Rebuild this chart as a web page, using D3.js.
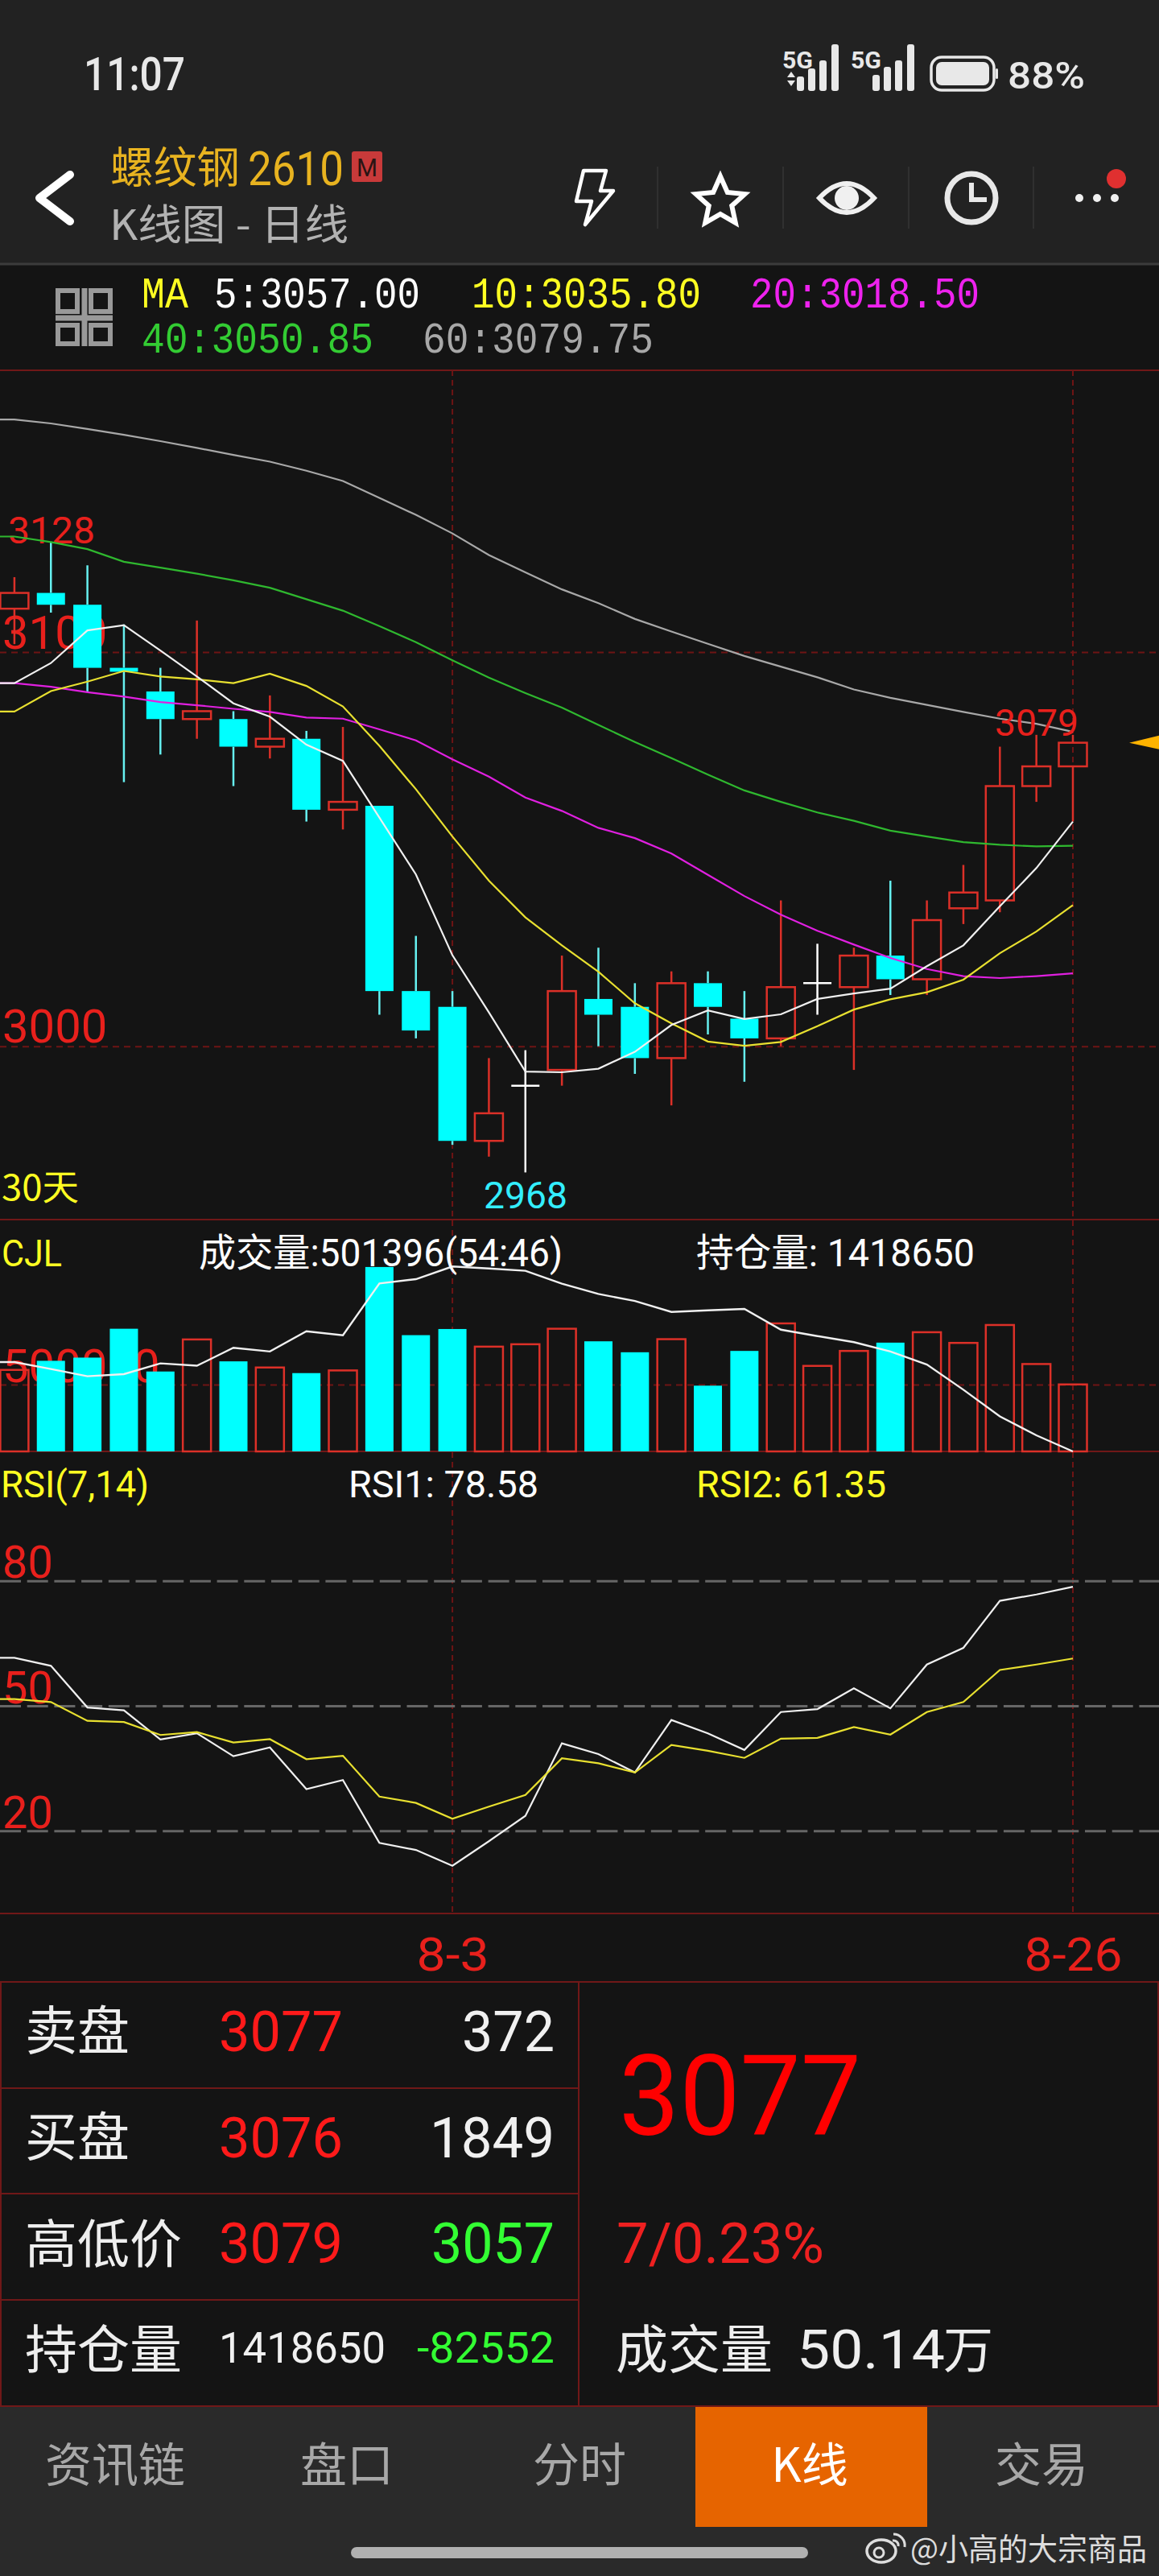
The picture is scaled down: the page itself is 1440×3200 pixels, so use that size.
<!DOCTYPE html>
<html>
<head>
<meta charset="utf-8">
<script src="https://cdn.jsdelivr.net/npm/d3@7"></script>
<style>
  body { margin: 0; background: #222222; }
  svg { display: block; }
  text { font-family: Roboto, "Noto Sans CJK SC", sans-serif; }
</style>
</head>
<body>
<div id="wrapper"></div>
<script>
// daily candles, 30 bars, ending 8-26
const opens = [3111,3115,3112,3096,3090,3083,3083,3076,3078,3060,3061,3014,3010,2976,2990,2994,3012,3010,2997,3016,3007,3002,3016,3015,3023,3017,3035,3037,3066,3071];
const closes = [3115,3112,3096,3095,3083,3085,3076,3078,3060,3062,3014,3004,2976,2983,2990,3014,3008,2997,3016,3010,3002,3015,3016,3023,3017,3032,3039,3066,3071,3077];
const highs = [3119,3128,3122,3107,3096,3108,3085,3089,3080,3081,3061,3028,3014,2997,2999,3023,3025,3016,3019,3019,3014,3037,3026,3025,3042,3037,3046,3076,3079,3079];
const lows = [3102,3110,3090,3067,3074,3078,3066,3073,3057,3055,3008,3002,2975,2972,2968,2990,3000,2993,2985,3003,2991,3000,3008,2994,3013,3013,3031,3034,3062,3057];

const ma5 = [3092.1,3097.2,3105.5,3106.8,3100.4,3093.8,3087.0,3083.6,3076.5,3072.4,3058.0,3043.6,3023.1,3008.6,2993.6,2993.4,2994.3,2998.6,3005.4,3009.1,3006.9,3008.1,3012.0,3013.4,3014.6,3020.3,3025.6,3035.5,3045.2,3057.0];
const ma10 = [3084.9,3090.1,3092.5,3095.2,3093.8,3093.1,3092.1,3094.5,3091.4,3086.2,3076.2,3065.2,3053.2,3042.0,3032.7,3025.6,3018.9,3010.9,3005.8,3001.2,3000.1,3001.1,3005.1,3009.3,3011.9,3013.7,3016.9,3023.6,3029.1,3035.8];
const ma20 = [3092.1,3091.2,3089.8,3088.7,3087.3,3086.5,3085.6,3084.8,3083.4,3083.1,3080.4,3077.6,3072.8,3068.4,3063.1,3059.7,3055.4,3052.8,3048.9,3043.5,3038.1,3033.4,3029.3,3025.8,3022.4,3019.6,3017.8,3017.3,3017.8,3018.5];
const ma40 = [3129.3,3127.9,3126.1,3122.9,3121.4,3119.9,3118.2,3116.3,3113.4,3110.5,3106.6,3102.5,3097.9,3093.5,3089.6,3085.9,3081.5,3077.2,3073.1,3068.9,3064.9,3062.0,3059.3,3057.2,3054.7,3053.2,3051.8,3051.1,3050.7,3050.85];
const ma60 = [3159.0,3158.0,3156.6,3155.1,3153.5,3151.8,3150.0,3148.3,3146.0,3143.4,3139.1,3134.8,3130.1,3124.6,3120.2,3115.9,3112.4,3108.4,3105.2,3102.1,3099.0,3096.3,3093.6,3090.5,3088.4,3086.6,3084.8,3083.1,3081.8,3079.75];

const volumes = [610000,678000,702000,918000,598000,838000,674000,628000,586000,606000,1380000,870000,916000,784000,802000,918000,824000,742000,840000,492000,752000,958000,640000,752000,814000,892000,812000,946000,654000,501396];
const openInterest = [1877000,1841000,1804000,1815000,1870000,1858000,1950000,1931000,2035000,2014000,2280000,2302000,2367000,2357000,2345000,2279000,2226000,2190000,2134000,2142000,2149000,2043000,2010000,1979000,1931000,1864000,1735000,1598000,1501202,1418650];

const rsi1 = [61.5,59.6,49.6,48.9,41.9,43.4,37.9,40.0,30.0,32.2,17.1,15.4,11.6,17.5,23.6,41.0,38.4,34.0,46.6,43.4,39.4,48.5,49.2,54.2,49.4,59.9,63.9,75.2,76.7,78.58];
const rsi2 = [51.6,50.9,46.4,46.1,43.0,43.7,41.2,42.0,37.2,38.0,28.2,26.7,22.9,25.8,28.6,37.4,36.2,34.0,40.6,39.2,37.5,42.1,42.3,44.9,43.1,48.5,50.9,58.6,59.9,61.35];

const priceTicks = [3100, 3000];
const volumeTicks = [500000];
const rsiTicks = [80, 50, 20];
const dateTicks = [12, 29];
const dateLabels = { 12: "8-3", 29: "8-26" };
const dateWidths = { 12: 90, 29: 122 };

const RED = "#e8201c";
const CANDLE_RED = "#dc3028";
const CYAN = "#00ffff";
const GRID = "#6e1414";
const PANEL_BG = "#141414";
const CJK = "Noto Sans CJK SC";

const dimensions = {
  width: 1440,
  height: 3200,
  headerTop: 328,
  mainTop: 460,
  volumeTop: 1515,
  volumeBase: 1803,
  rsiBase: 2377,
  datesBottom: 2462,
  tableBottom: 2989,
  bodyWidth: 35,
};

const wrapper = d3
  .select("#wrapper")
  .append("svg")
  .attr("width", dimensions.width)
  .attr("height", dimensions.height)
  .attr("role", "figure");

wrapper.append("title").text("螺纹钢2610 K线图 - 日线");

const xScale = d3.scaleLinear().domain([0, 29]).range([17.9, 1333]);
const priceScale = d3.scaleLinear().domain([3000, 3100]).range([1299.7, 810]);
const volumeScale = d3.scaleLinear().domain([0, 500000]).range([dimensions.volumeBase, 1720]);
const oiScale = d3.scaleLinear().domain([1418650, 1831450]).range([dimensions.volumeBase, 1703]);
const rsiScale = d3.scaleLinear().domain([20, 80]).range([2274.3, 1963.7]);

// flat lead-in so each line runs off the left edge like the previous bar would
const lineOf = (yScale, values) =>
  d3
    .line()
    .x((d, i) => xScale(i - 1))
    .y((d) => yScale(d))([values[0], ...values]);

// the app's font is narrower than anything installed, so most texts get a fitted width
const addText = (parent, str, x, y, size, fill, opts = {}) => {
  const t = parent
    .append("text")
    .attr("x", x)
    .attr("y", y)
    .attr("font-size", size)
    .attr("fill", fill)
    .attr("text-anchor", opts.anchor || "start")
    .attr("font-weight", opts.weight || 400)
    .style("font-family", opts.family || null)
    .text(str);
  if (opts.length) t.attr("textLength", opts.length).attr("lengthAdjust", "spacingAndGlyphs");
  return t;
};

/* ---------- page backgrounds ---------- */
wrapper.append("rect").attr("width", 1440).attr("height", 3200).attr("fill", "#222222");
wrapper
  .append("rect")
  .attr("y", dimensions.headerTop)
  .attr("width", 1440)
  .attr("height", dimensions.tableBottom - dimensions.headerTop)
  .attr("fill", PANEL_BG);
wrapper
  .append("rect")
  .attr("y", dimensions.tableBottom)
  .attr("width", 1440)
  .attr("height", 3200 - dimensions.tableBottom)
  .attr("fill", "#2a2a2a");

/* ---------- status bar ---------- */
const statusBar = wrapper.append("g");
addText(statusBar, "11:07", 104, 112, 58, "#e8e8e8", { weight: 500, length: 126 });
addText(statusBar, "88%", 1252, 110, 46, "#e8e8e8", { weight: 500, length: 96 });
addText(statusBar, "5G", 972, 85, 29, "#e8e8e8", { weight: 700, length: 38 });
addText(statusBar, "5G", 1057, 85, 29, "#e8e8e8", { weight: 700, length: 38 });
[[990, 18], [1004, 28], [1018, 38], [1033, 48], [1084, 20], [1098, 30], [1112, 38], [1127, 48]].forEach(([x, h], i) => {
  const taller = i === 3 || i === 7 ? 10 : 0;
  statusBar
    .append("rect")
    .attr("x", x)
    .attr("y", 113 - h - taller)
    .attr("width", 9)
    .attr("height", h + taller)
    .attr("rx", 3)
    .attr("fill", "#e8e8e8");
});
statusBar.append("path").attr("d", "M978 96 l5 -7 l5 7 z M978 100 l5 7 l5 -7 z").attr("fill", "#e8e8e8");
statusBar
  .append("rect")
  .attr("x", 1157)
  .attr("y", 71)
  .attr("width", 78)
  .attr("height", 41)
  .attr("rx", 13)
  .attr("fill", "none")
  .attr("stroke", "#e8e8e8")
  .attr("stroke-width", 3.5);
statusBar
  .append("rect")
  .attr("x", 1163)
  .attr("y", 77)
  .attr("width", 66)
  .attr("height", 29)
  .attr("rx", 7)
  .attr("fill", "#e8e8e8");
statusBar.append("rect").attr("x", 1237).attr("y", 85).attr("width", 3).attr("height", 13).attr("rx", 1.5).attr("fill", "#e8e8e8");

/* ---------- title bar ---------- */
const titleBar = wrapper.append("g");
titleBar
  .append("path")
  .attr("d", "M87 217 L49 246 L87 275")
  .attr("fill", "none")
  .attr("stroke", "#ffffff")
  .attr("stroke-width", 10)
  .attr("stroke-linecap", "round")
  .attr("stroke-linejoin", "round");
addText(titleBar, "螺纹钢", 137, 228, 54, "#e8b320", { family: CJK, length: 161 });
addText(titleBar, "2610", 308, 230, 60, "#e8b320", { length: 119 });
titleBar.append("rect").attr("x", 437).attr("y", 188).attr("width", 38).attr("height", 38).attr("rx", 3).attr("fill", "#c83a3a");
addText(titleBar, "M", 456, 219, 32, "#2a1414", { anchor: "middle", length: 26 });
addText(titleBar, "K线图 - 日线", 136, 298, 52, "#b2b2b2", { family: CJK, length: 297 });

[817, 973, 1129, 1284].forEach((x) => {
  titleBar.append("line").attr("x1", x).attr("x2", x).attr("y1", 207).attr("y2", 284).attr("stroke", "#303030").attr("stroke-width", 2);
});
titleBar
  .append("path")
  .attr("d", "M725 212 L753 212 L746 237 L762 237 L727 279 L735 250 L716 250 Z")
  .attr("fill", "none")
  .attr("stroke", "#ffffff")
  .attr("stroke-width", 4.5)
  .attr("stroke-linejoin", "round");
const starPoints = d3.range(10).map((i) => {
  const r = i % 2 ? 15 : 32;
  const a = (i * Math.PI) / 5 - Math.PI / 2;
  return [895 + r * Math.cos(a), 251 + r * Math.sin(a)];
});
titleBar
  .append("path")
  .attr("d", d3.line()(starPoints) + "Z")
  .attr("fill", "none")
  .attr("stroke", "#ffffff")
  .attr("stroke-width", 6);
titleBar
  .append("path")
  .attr("d", "M1018 246 Q1052 210 1086 246 Q1052 282 1018 246 Z")
  .attr("fill", "none")
  .attr("stroke", "#f0f0f0")
  .attr("stroke-width", 6);
titleBar.append("circle").attr("cx", 1052).attr("cy", 246).attr("r", 15).attr("fill", "#f0f0f0");
titleBar.append("circle").attr("cx", 1207).attr("cy", 246).attr("r", 30).attr("fill", "none").attr("stroke", "#e8e8e8").attr("stroke-width", 7);
titleBar.append("path").attr("d", "M1207 227 V248 H1226").attr("fill", "none").attr("stroke", "#e8e8e8").attr("stroke-width", 6);
[1341, 1363, 1385].forEach((x) => titleBar.append("circle").attr("cx", x).attr("cy", 246).attr("r", 5).attr("fill", "#f0f0f0"));
titleBar.append("circle").attr("cx", 1387).attr("cy", 222).attr("r", 12).attr("fill", "#e03030");

/* ---------- MA header ---------- */
const header = wrapper.append("g");
header.append("line").attr("x1", 0).attr("x2", 1440).attr("y1", 328).attr("y2", 328).attr("stroke", "#3c3c3c").attr("stroke-width", 3);
const mono = "Liberation Mono";
addText(header, "MA", 176, 382, 53, "#ffff22", { family: mono, length: 58 });
addText(header, "5:3057.00", 266, 382, 53, "#ffffff", { family: mono, length: 256 });
addText(header, "10:3035.80", 586, 382, 53, "#ffff22", { family: mono, length: 285 });
addText(header, "20:3018.50", 932, 382, 53, "#ee22ee", { family: mono, length: 285 });
addText(header, "40:3050.85", 176, 438, 53, "#33cc33", { family: mono, length: 288 });
addText(header, "60:3079.75", 525, 438, 53, "#a8a8a8", { family: mono, length: 287 });
const menuIcon = header.append("g").attr("fill", "none").attr("stroke", "#999999").attr("stroke-width", 6);
menuIcon.append("rect").attr("x", 72).attr("y", 361).attr("width", 24).attr("height", 26);
menuIcon.append("rect").attr("x", 113).attr("y", 361).attr("width", 24).attr("height", 26);
menuIcon.append("rect").attr("x", 72).attr("y", 404).attr("width", 24).attr("height", 23);
menuIcon.append("rect").attr("x", 113).attr("y", 404).attr("width", 24).attr("height", 23);
menuIcon.append("path").attr("d", "M69 395 H140 M105 358 V430").attr("stroke-width", 7);

/* ---------- frame lines ---------- */
const frame = wrapper.append("g").attr("stroke", "#701818").attr("stroke-width", 2);
[dimensions.mainTop, dimensions.volumeTop, dimensions.volumeBase, dimensions.rsiBase].forEach((y) => {
  frame.append("line").attr("x1", 0).attr("x2", 1440).attr("y1", y).attr("y2", y);
});
dateTicks.forEach((t) => {
  wrapper
    .append("line")
    .attr("x1", xScale(t))
    .attr("x2", xScale(t))
    .attr("y1", dimensions.mainTop)
    .attr("y2", dimensions.rsiBase)
    .attr("stroke", GRID)
    .attr("stroke-width", 2)
    .attr("stroke-dasharray", "7 5");
});

/* ---------- price panel ---------- */
const styleAxis = (g, stroke, dash, strokeWidth, size, fill, dy) => {
  g.select(".domain").remove();
  g.selectAll(".tick line")
    .attr("stroke", stroke)
    .attr("stroke-width", strokeWidth)
    .attr("stroke-dasharray", dash);
  g.selectAll(".tick text")
    .attr("font-size", size)
    .attr("fill", fill)
    .attr("dy", dy)
    .attr("text-anchor", "start")
    .style("font-family", "Roboto");
};

wrapper
  .append("g")
  .call(d3.axisRight(priceScale).tickValues(priceTicks).tickSize(1440).tickPadding(-1437).tickFormat(d3.format("d")))
  .call(styleAxis, GRID, "8 6", 2, 58, RED, -5);

addText(wrapper, "3128", 10, 675, 47, RED, { length: 108 });
addText(wrapper, "30天", 2, 1491, 44, "#ffff22", { family: CJK, length: 96 });

const candles = d3.range(opens.length).map((i) => ({
  i,
  open: opens[i],
  close: closes[i],
  high: highs[i],
  low: lows[i],
}));
const candleColor = (d) =>
  d.close > d.open ? CANDLE_RED : d.close < d.open ? CYAN : "#ffffff";

const candleGroups = wrapper.append("g").selectAll("g").data(candles).join("g");

candleGroups
  .append("line")
  .attr("x1", (d) => xScale(d.i))
  .attr("x2", (d) => xScale(d.i))
  .attr("y1", (d) => priceScale(d.high))
  .attr("y2", (d) => priceScale(Math.max(d.open, d.close)))
  .attr("stroke", (d) => (d.close < d.open ? "#66f0f0" : candleColor(d)))
  .attr("stroke-width", 2.5);
candleGroups
  .append("line")
  .attr("x1", (d) => xScale(d.i))
  .attr("x2", (d) => xScale(d.i))
  .attr("y1", (d) => priceScale(Math.min(d.open, d.close)))
  .attr("y2", (d) => priceScale(d.low))
  .attr("stroke", (d) => (d.close < d.open ? "#66f0f0" : candleColor(d)))
  .attr("stroke-width", 2.5);
candleGroups
  .filter((d) => d.close !== d.open)
  .append("rect")
  .attr("x", (d) => xScale(d.i) - dimensions.bodyWidth / 2)
  .attr("y", (d) => priceScale(Math.max(d.open, d.close)))
  .attr("width", dimensions.bodyWidth)
  .attr("height", (d) => Math.abs(priceScale(d.open) - priceScale(d.close)))
  .attr("fill", (d) => (d.close < d.open ? CYAN : "none"))
  .attr("stroke", candleColor)
  .attr("stroke-width", (d) => (d.close < d.open ? 0 : 2.5));
// doji: no body height, so a plain cross bar
candleGroups
  .filter((d) => d.close === d.open)
  .append("line")
  .attr("x1", (d) => xScale(d.i) - dimensions.bodyWidth / 2)
  .attr("x2", (d) => xScale(d.i) + dimensions.bodyWidth / 2)
  .attr("y1", (d) => priceScale(d.open))
  .attr("y2", (d) => priceScale(d.open))
  .attr("stroke", "#ffffff")
  .attr("stroke-width", 2.5);

const maLines = [
  [ma60, "#a8a8a8"],
  [ma40, "#2fb82f"],
  [ma20, "#e020e0"],
  [ma10, "#e8e030"],
  [ma5, "#f0f0f0"],
];
wrapper
  .append("g")
  .selectAll("path")
  .data(maLines)
  .join("path")
  .attr("d", (d) => lineOf(priceScale, d[0]))
  .attr("fill", "none")
  .attr("stroke", (d) => d[1])
  .attr("stroke-width", 2.2);

addText(wrapper, "2968", 601, 1501, 47, "#33eeff", { length: 104 });
addText(wrapper, "3079", 1236, 914, 47, RED, { length: 104 });
const lastPrice = closes[closes.length - 1];
wrapper
  .append("path")
  .attr("d", `M1403 ${priceScale(lastPrice)} L1440 ${priceScale(lastPrice) - 9} L1440 ${priceScale(lastPrice) + 8} Z`)
  .attr("fill", "#ffb300");

/* ---------- volume panel ---------- */
wrapper
  .append("g")
  .call(d3.axisRight(volumeScale).tickValues(volumeTicks).tickSize(1440).tickPadding(-1437).tickFormat(d3.format("d")))
  .call(styleAxis, GRID, "8 6", 2, 58, RED, -4);

const volumeBars = wrapper.append("g").selectAll("rect").data(candles).join("rect");
volumeBars
  .attr("x", (d) => xScale(d.i) - dimensions.bodyWidth / 2)
  .attr("y", (d) => volumeScale(volumes[d.i]))
  .attr("width", dimensions.bodyWidth)
  .attr("height", (d) => dimensions.volumeBase - volumeScale(volumes[d.i]))
  .attr("fill", (d) => (d.close < d.open ? CYAN : "none"))
  .attr("stroke", (d) => (d.close < d.open ? "none" : CANDLE_RED))
  .attr("stroke-width", 2.5);

wrapper
  .append("path")
  .attr("d", lineOf(oiScale, openInterest))
  .attr("fill", "none")
  .attr("stroke", "#f0f0f0")
  .attr("stroke-width", 2.4);

addText(wrapper, "CJL", 2, 1573, 46, "#ffff22", { length: 75 });
addText(wrapper, "成交量:501396(54:46)", 247, 1573, 48, "#ffffff", { length: 452 });
addText(wrapper, "持仓量: 1418650", 865, 1573, 48, "#ffffff", { length: 346 });

/* ---------- RSI panel ---------- */
wrapper
  .append("g")
  .call(d3.axisRight(rsiScale).tickValues(rsiTicks).tickSize(1440).tickPadding(-1437))
  .call(styleAxis, "#666666", "26 7.7", 3, 56, RED, -4);

wrapper
  .append("g")
  .selectAll("path")
  .data([
    [rsi1, "#f0f0f0"],
    [rsi2, "#e8e030"],
  ])
  .join("path")
  .attr("d", (d) => lineOf(rsiScale, d[0]))
  .attr("fill", "none")
  .attr("stroke", (d) => d[1])
  .attr("stroke-width", 2.2);

addText(wrapper, "RSI(7,14)", 1, 1860, 46, "#ffff22", { length: 184 });
addText(wrapper, "RSI1: 78.58", 433, 1860, 47, "#ffffff", { length: 236 });
addText(wrapper, "RSI2: 61.35", 865, 1860, 47, "#ffff22", { length: 236 });

/* ---------- dates ---------- */
wrapper
  .append("g")
  .attr("transform", `translate(0, ${dimensions.rsiBase})`)
  .call(d3.axisBottom(xScale).tickValues(dateTicks).tickSize(0).tickPadding(0).tickFormat((t) => dateLabels[t]))
  .call((g) => {
    g.select(".domain").remove();
    g.selectAll("text")
      .attr("y", 71)
      .attr("dy", 0)
      .attr("font-size", 58)
      .attr("fill", RED)
      .attr("textLength", (t) => dateWidths[t])
      .attr("lengthAdjust", "spacingAndGlyphs")
      .style("font-family", "Roboto");
  });

/* ---------- quote table ---------- */
const table = wrapper.append("g");
const tableLines = table.append("g").attr("stroke", "#701818").attr("stroke-width", 2);
[dimensions.datesBottom, 2594, 2725, 2857, dimensions.tableBottom].forEach((y, i) => {
  tableLines.append("line").attr("x1", 0).attr("x2", i === 0 || i === 4 ? 1440 : 719).attr("y1", y).attr("y2", y);
});
[1, 719, 1439].forEach((x) => {
  tableLines.append("line").attr("x1", x).attr("x2", x).attr("y1", dimensions.datesBottom).attr("y2", dimensions.tableBottom);
});

const GREEN = "#33ff33";
const rowBaselines = [2546, 2678, 2811, 2942];
const rowNames = ["卖盘", "买盘", "高低价", "持仓量"];
const rowPrices = ["3077", "3076", "3079"];
const rowRight = ["372", "1849", "3057"];
const rowRightWidths = [115, 155, 153];
const valueBaselines = [2548, 2680, 2811];
rowNames.forEach((name, i) => addText(table, name, 31, rowBaselines[i], 65, "#eeeeee", { family: CJK }));
rowPrices.forEach((p, i) => addText(table, p, 272, valueBaselines[i], 70, "#ff1a1a", { length: 154 }));
rowRight.forEach((v, i) =>
  addText(table, v, 689, valueBaselines[i], 70, i === 2 ? GREEN : "#f0f0f0", { anchor: "end", length: rowRightWidths[i] })
);
addText(table, "1418650", 272, 2935, 54, "#f0f0f0", { length: 207 });
addText(table, "-82552", 689, 2935, 54, GREEN, { anchor: "end", length: 171 });
addText(table, "3077", 769, 2652, 140, "#ff0000", { length: 301 });
addText(table, "7/0.23%", 766, 2811, 70, "#ee2020", { length: 258 });
addText(table, "成交量", 765, 2942, 65, "#eeeeee", { family: CJK });
addText(table, "50.14", 990, 2942, 66, "#eeeeee", { length: 184 });
addText(table, "万", 1172, 2942, 62, "#eeeeee", { family: CJK });

/* ---------- bottom tabs ---------- */
const tabs = wrapper.append("g");
tabs.append("rect").attr("x", 864).attr("y", 2990).attr("width", 288).attr("height", 149).attr("fill", "#e66400");
const tabLabels = ["资讯链", "盘口", "分时", "K线", "交易"];
const tabCentres = [143, 431, 720, 1006, 1294];
tabLabels.forEach((label, i) =>
  addText(tabs, label, tabCentres[i], 3083, 58, i === 3 ? "#ffffff" : "#a8a8a8", { anchor: "middle", family: CJK })
);
tabs.append("rect").attr("x", 436).attr("y", 3164).attr("width", 568).attr("height", 14).attr("rx", 7).attr("fill", "#b0b0b0");

/* ---------- watermark ---------- */
const mark = wrapper.append("g");
addText(mark, "@小高的大宗商品", 1131, 3180, 38, "#dddddd", { family: CJK, length: 294 });
mark.append("ellipse").attr("cx", 1095).attr("cy", 3169).attr("rx", 18).attr("ry", 14).attr("fill", "none").attr("stroke", "#dddddd").attr("stroke-width", 3.5);
mark.append("circle").attr("cx", 1092).attr("cy", 3171).attr("r", 6).attr("fill", "none").attr("stroke", "#dddddd").attr("stroke-width", 3);
mark.append("path").attr("d", "M1110 3148 A14 14 0 0 1 1124 3164 M1109 3156 A6 6 0 0 1 1116 3163").attr("fill", "none").attr("stroke", "#dddddd").attr("stroke-width", 3);
</script>
</body>
</html>
